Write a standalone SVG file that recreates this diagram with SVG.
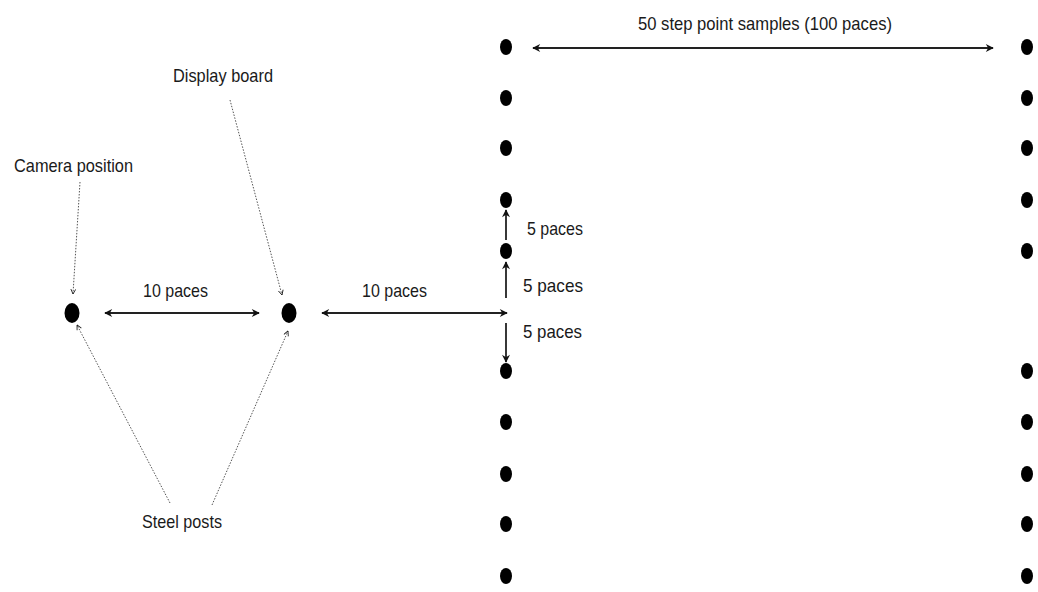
<svg xmlns="http://www.w3.org/2000/svg" width="1038" height="592" viewBox="0 0 1038 592">
<style>
text{font-family:"Liberation Sans",Arial,sans-serif;font-size:19px;fill:#1a1a1a}
.dot{fill:#000}
.arr{stroke:#222;stroke-width:1.8;fill:none}
.lead{stroke:#555;stroke-width:1;stroke-dasharray:1.5 1.5;fill:none}
</style>
<defs>
<marker id="ah" viewBox="0 0 10 10" refX="9" refY="5" markerWidth="9" markerHeight="8" markerUnits="userSpaceOnUse" orient="auto-start-reverse">
<path d="M0,0 L10,5 L0,10 L3,5 z" fill="#111"/>
</marker>
<marker id="lh" viewBox="0 0 10 10" refX="9" refY="5" markerWidth="6" markerHeight="6" markerUnits="userSpaceOnUse" orient="auto">
<path d="M1,1 L9,5 L1,9" fill="none" stroke="#222" stroke-width="1.5"/>
</marker>
</defs>
<rect width="1038" height="592" fill="#fff"/>
<g id="connectors">
<line class="arr" x1="533" y1="48" x2="993" y2="48" marker-start="url(#ah)" marker-end="url(#ah)"/>
<line class="arr" x1="105" y1="313" x2="259" y2="313" marker-start="url(#ah)" marker-end="url(#ah)"/>
<line class="arr" x1="322" y1="313" x2="507" y2="313" marker-start="url(#ah)" marker-end="url(#ah)"/>
<line class="arr" x1="506" y1="240" x2="506" y2="210" marker-end="url(#ah)"/>
<line class="arr" x1="506" y1="298" x2="506" y2="262" marker-end="url(#ah)"/>
<line class="arr" x1="506" y1="323" x2="506" y2="362" marker-end="url(#ah)"/>
<line class="lead" x1="80" y1="182" x2="73" y2="294" marker-end="url(#lh)"/>
<line class="lead" x1="230" y1="100" x2="282" y2="295" marker-end="url(#lh)"/>
<line class="lead" x1="170" y1="503" x2="77" y2="325" marker-end="url(#lh)"/>
<line class="lead" x1="212" y1="505" x2="288" y2="331" marker-end="url(#lh)"/>
</g>
<g id="camera">
<ellipse class="dot" cx="72" cy="313" rx="7.5" ry="10"/>
<text x="14" y="172" textLength="119" lengthAdjust="spacingAndGlyphs">Camera position</text>
</g>
<g id="display-board">
<ellipse class="dot" cx="289" cy="313" rx="7.5" ry="10"/>
<text x="173" y="82" textLength="100" lengthAdjust="spacingAndGlyphs">Display board</text>
</g>
<g id="steel-posts">
<text x="142" y="528" textLength="80" lengthAdjust="spacingAndGlyphs">Steel posts</text>
</g>
<g id="labels">
<text x="638" y="30" textLength="254" lengthAdjust="spacingAndGlyphs">50 step point samples (100 paces)</text>
<text x="143" y="297" textLength="65" lengthAdjust="spacingAndGlyphs">10 paces</text>
<text x="362" y="297" textLength="65" lengthAdjust="spacingAndGlyphs">10 paces</text>
<text x="527" y="235" textLength="56" lengthAdjust="spacingAndGlyphs">5 paces</text>
<text x="523" y="292" textLength="60" lengthAdjust="spacingAndGlyphs">5 paces</text>
<text x="523" y="338" textLength="59" lengthAdjust="spacingAndGlyphs">5 paces</text>
</g>
<g id="left-column">
<ellipse class="dot" cx="506" cy="47" rx="6" ry="8"/>
<ellipse class="dot" cx="506" cy="98" rx="6" ry="8"/>
<ellipse class="dot" cx="506" cy="148" rx="6" ry="8"/>
<ellipse class="dot" cx="506" cy="200" rx="6" ry="8"/>
<ellipse class="dot" cx="506" cy="251" rx="6" ry="8"/>
<ellipse class="dot" cx="506" cy="371" rx="6" ry="8"/>
<ellipse class="dot" cx="506" cy="422" rx="6" ry="8"/>
<ellipse class="dot" cx="506" cy="474" rx="6" ry="8"/>
<ellipse class="dot" cx="506" cy="524" rx="6" ry="8"/>
<ellipse class="dot" cx="506" cy="576" rx="6" ry="8"/>
</g>
<g id="right-column">
<ellipse class="dot" cx="1027" cy="47" rx="6" ry="8"/>
<ellipse class="dot" cx="1027" cy="98" rx="6" ry="8"/>
<ellipse class="dot" cx="1027" cy="148" rx="6" ry="8"/>
<ellipse class="dot" cx="1027" cy="200" rx="6" ry="8"/>
<ellipse class="dot" cx="1027" cy="251" rx="6" ry="8"/>
<ellipse class="dot" cx="1027" cy="371" rx="6" ry="8"/>
<ellipse class="dot" cx="1027" cy="422" rx="6" ry="8"/>
<ellipse class="dot" cx="1027" cy="474" rx="6" ry="8"/>
<ellipse class="dot" cx="1027" cy="524" rx="6" ry="8"/>
<ellipse class="dot" cx="1027" cy="576" rx="6" ry="8"/>
</g>
</svg>
